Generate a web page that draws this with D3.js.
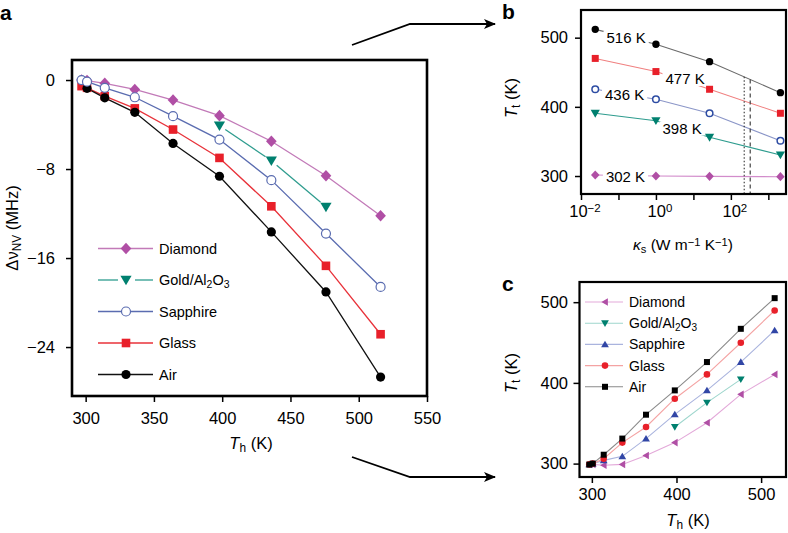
<!DOCTYPE html>
<html><head><meta charset="utf-8">
<script src="https://cdn.jsdelivr.net/npm/d3@7"></script>
<style>
body{margin:0;background:#fff;}
svg{display:block;font-family:"Liberation Sans",Arial,Helvetica,sans-serif;}
</style>
</head><body>
<svg id="chart" width="788" height="533"></svg>
<script>
// ---------- DATA ----------
const Th = [297, 301, 314, 336, 364, 398, 436, 476, 516];
// panel a: shift of NV frequency (MHz)
const diamondA  = [0, -0.05, -0.3, -0.85, -1.8, -3.2, -5.5, -8.6, -12.2];
const goldA     = [null, null, null, null, null, -4.1, -7.25, -11.4, null];
const sapphireA = [0, -0.15, -0.7, -1.55, -3.25, -5.35, -9.0, -13.8, -18.6];
const glassA    = [-0.55, -0.7, -1.45, -2.55, -4.45, -7.0, -11.35, -16.7, -22.85];
const airA      = [null, -0.75, -1.6, -2.9, -5.7, -8.65, -13.65, -19.05, -26.7];
const xTicksA = [300, 350, 400, 450, 500, 550];
const yTicksA = [0, -8, -16, -24];

// panel b: Tt vs substrate conductivity
const kappa = [0.024, 1.0, 27, 2100];
const b516 = [512, 490.5, 465.3, 420.5];
const b477 = [470, 451, 425.4, 390.7];
const b436 = [425.4, 411, 390.7, 351];
const b398 = [390.7, 380, 356, 330.5];
const b302 = [301.5, 300, 299.5, 299];
const bLabels = ["516 K", "477 K", "436 K", "398 K", "302 K"];
const vlinesB = [227, 328];
const xTicksB = [0.01, 0.1, 1, 10, 100, 1000];
const xLabelsB = [0.01, 1, 100];
const yTicksB = [300, 400, 500];

// panel c: Tt vs Th
const diamondC  = [299, 299, 298, 299, 310, 326, 350.7, 385.8, 410.5];
const goldC     = [null, null, null, null, null, 345.4, 375.5, 404.4, null];
const sapphireC = [299, 300, 304, 309, 331, 361, 390.7, 425.8, 465];
const glassC    = [299, 300, 306, 326, 345.4, 380.4, 410.5, 449.7, 489.7];
const airC      = [298.8, 300, 311, 331, 360.6, 390.7, 425.8, 467, 505];
const xTicksC = [300, 400, 500];
const yTicksC = [300, 400, 500];

const names = ["Diamond", "Gold/Al2O3", "Sapphire", "Glass", "Air"];

// ---------- HELPERS ----------
const svg = d3.select("#chart");
const FONT = "Liberation Sans, Arial, Helvetica, sans-serif";

function markerPath(type, s) {
  switch (type) {
    case "diamond": return `M0,${-s}L${s*0.92},0L0,${s}L${-s*0.92},0Z`;
    case "square": return `M${-s},${-s}H${s}V${s}H${-s}Z`;
    case "tdown": return `M${-s},${-s*0.75}H${s}L0,${s*0.95}Z`;
    case "tup": return `M${-s},${s*0.75}H${s}L0,${-s*0.95}Z`;
    case "tleft": return `M${s*0.75},${-s}V${s}L${-s*0.95},0Z`;
    default: return d3.symbol(d3.symbolCircle, Math.PI*s*s)();
  }
}
function drawMarker(g, type, x, y, s, fill, stroke, sw) {
  g.append("path").attr("d", markerPath(type, s))
    .attr("transform", `translate(${x},${y})`)
    .attr("fill", fill).attr("stroke", stroke || "none").attr("stroke-width", sw || 0);
}
function styleAxis(g, fs) {
  g.select(".domain").remove();
  g.selectAll(".tick line").attr("stroke", "#000").attr("stroke-width", 1.5);
  g.selectAll(".tick text").attr("font-size", fs).attr("fill", "#000").attr("font-family", FONT);
}
const fmtMinus = d => d < 0 ? "\u2212" + (-d) : String(d);

function addSubLabel(g, parts, x, y, fs, anchor, rotate) {
  const t = g.append("text").attr("font-size", fs).attr("text-anchor", anchor || "middle")
    .attr("fill", "#000");
  if (rotate) t.attr("transform", `translate(${x},${y}) rotate(-90)`);
  else t.attr("x", x).attr("y", y);
  parts.forEach(p => {
    const ts = t.append("tspan").text(p.t);
    if (p.i) ts.attr("font-style", "italic");
    if (p.sub) ts.attr("baseline-shift", "-28%").attr("font-size", fs * 0.72);
    if (p.sup) ts.attr("baseline-shift", "38%").attr("font-size", fs * 0.72);
  });
  return t;
}
function goldName(g, x, y, fs) {
  addSubLabel(g, [{t:"Gold/Al"},{t:"2",sub:1},{t:"O"},{t:"3",sub:1}], x, y, fs, "start");
}

// ---------- PANEL A ----------
const A = {l:72, r:427, t:60, b:396};
const xA = d3.scaleLinear().domain([290, 550]).range([A.l, A.r]);
const yA = d3.scaleLinear().domain([-28.4, 1.8]).range([A.b, A.t]);
const gA = svg.append("g");

const seriesA = [
  {name:"Diamond", v:diamondA, line:"#c27ab8", fill:"#b04fa5", stroke:"none", m:"diamond", s:5.8},
  {name:"Gold/Al2O3", v:goldA, line:"#2e9c8e", fill:"#00806f", stroke:"none", m:"tdown", s:5.6, gap:7},
  {name:"Glass", v:glassA, line:"#e8323a", fill:"#e8202a", stroke:"none", m:"square", s:4.3},
  {name:"Air", v:airA, line:"#111", fill:"#000", stroke:"none", m:"circle", s:4.6},
  {name:"Sapphire", v:sapphireA, line:"#5a6cb0", fill:"#fff", stroke:"#5a6cb0", m:"circle", s:4.5, sw:1.2}
];
const lineGen = (xs, ys) => d3.line().defined(d => d[1] != null).x(d => xs(d[0])).y(d => ys(d[1]));

seriesA.forEach(S => {
  const pts = Th.map((t, i) => [t, S.v[i]]).filter(p => p[1] != null);
  if (S.gap) {
    for (let i = 0; i < pts.length - 1; i++) {
      const x1 = xA(pts[i][0]), y1 = yA(pts[i][1]), x2 = xA(pts[i+1][0]), y2 = yA(pts[i+1][1]);
      const L = Math.hypot(x2-x1, y2-y1), ux = (x2-x1)/L, uy = (y2-y1)/L;
      gA.append("line").attr("x1", x1+ux*S.gap).attr("y1", y1+uy*S.gap)
        .attr("x2", x2-ux*S.gap).attr("y2", y2-uy*S.gap)
        .attr("stroke", S.line).attr("stroke-width", 1.3);
    }
  } else {
    gA.append("path").datum(pts).attr("d", lineGen(xA, yA)).attr("fill", "none")
      .attr("stroke", S.line).attr("stroke-width", 1.3);
  }
});
seriesA.forEach(S => {
  Th.forEach((t, i) => { if (S.v[i] != null) drawMarker(gA, S.m, xA(t), yA(S.v[i]), S.s, S.fill, S.stroke, S.sw); });
});
gA.append("rect").attr("x", A.l).attr("y", A.t).attr("width", A.r-A.l).attr("height", A.b-A.t)
  .attr("fill", "none").attr("stroke", "#000").attr("stroke-width", 2.6);
const axA = gA.append("g").attr("transform", `translate(0,${A.b})`)
  .call(d3.axisBottom(xA).tickValues(xTicksA).tickSize(6).tickPadding(10));
styleAxis(axA, 16.5);
const ayA = gA.append("g").attr("transform", `translate(${A.l},0)`)
  .call(d3.axisLeft(yA).tickValues(yTicksA).tickSize(6).tickPadding(11).tickFormat(fmtMinus));
styleAxis(ayA, 16.5);
addSubLabel(gA, [{t:"T",i:1},{t:"h",sub:1},{t:" (K)"}], 251, 449, 16.5);
addSubLabel(gA, [{t:"\u0394\u03bd"},{t:"NV",sub:1},{t:" (MHz)"}], 18, 228, 16.5, "middle", true);

// legend a
const legA = ["Diamond","Gold/Al2O3","Sapphire","Glass","Air"];
legA.forEach((nm, i) => {
  const S = seriesA.find(s => s.name === nm);
  const y = 248.5 + i * 31.5;
  if (S.gap) {
    gA.append("line").attr("x1", 98).attr("x2", 118).attr("y1", y).attr("y2", y).attr("stroke", S.line).attr("stroke-width", 1.3);
    gA.append("line").attr("x1", 135).attr("x2", 153).attr("y1", y).attr("y2", y).attr("stroke", S.line).attr("stroke-width", 1.3);
  } else {
    gA.append("line").attr("x1", 98).attr("x2", 153).attr("y1", y).attr("y2", y).attr("stroke", S.line).attr("stroke-width", 1.3);
  }
  drawMarker(gA, S.m, 126, y, S.s, S.fill, S.stroke, S.sw);
  if (nm === "Gold/Al2O3") goldName(gA, 159, y + 5.2, 14.5);
  else gA.append("text").attr("x", 159).attr("y", y + 5.2).attr("font-size", 14.5).text(nm);
});

// ---------- PANEL B ----------
const B = {l:581, r:786, t:10, b:194};
const xB = d3.scaleLog().domain([0.01, 2960]).range([B.l, B.r]);
const yB = d3.scaleLinear().domain([274, 540]).range([B.b, B.t]);
const gB = svg.append("g");
const seriesB = [
  {v:b516, line:"#6a6a6a", fill:"#000", stroke:"none", m:"circle", s:3.7, lab:bLabels[0], lx:0.16, ly:499.5},
  {v:b477, line:"#f08080", fill:"#e8202a", stroke:"none", m:"square", s:3.5, lab:bLabels[1], lx:6.0, ly:440.3},
  {v:b436, line:"#8b96c8", fill:"#fff", stroke:"#2d4ca3", m:"circle", s:3.3, sw:1.5, lab:bLabels[2], lx:0.146, ly:418},
  {v:b398, line:"#2e9c8e", fill:"#00806f", stroke:"none", m:"tdown", s:4.6, lab:bLabels[3], lx:5.0, ly:368.6},
  {v:b302, line:"#d28ccb", fill:"#b04fa5", stroke:"none", m:"diamond", s:4.6, lab:bLabels[4], lx:0.154, ly:299.3}
];
seriesB.forEach(S => {
  gB.append("path").datum(kappa.map((k, i) => [k, S.v[i]])).attr("d", lineGen(xB, yB))
    .attr("fill", "none").attr("stroke", S.line).attr("stroke-width", 1.1);
});
// vertical reference lines from the 516 K curve to the axis
vlinesB.forEach((kv, j) => {
  const lk = kappa.map(Math.log10);
  const i = 2, f = (Math.log10(kv) - lk[i]) / (lk[i+1] - lk[i]);
  const yt = b516[i] + f * (b516[i+1] - b516[i]);
  gB.append("line").attr("x1", xB(kv)).attr("x2", xB(kv)).attr("y1", yB(yt)).attr("y2", B.b)
    .attr("stroke", "#333").attr("stroke-width", 1.1).attr("stroke-dasharray", j === 0 ? "1.5,2" : "4,3");
});
seriesB.forEach(S => {
  const tx = xB(S.lx), ty = yB(S.ly);
  const t = gB.append("text").attr("x", tx).attr("y", ty + 5.3).attr("text-anchor", "middle")
    .attr("font-size", 15).text(S.lab);
  const bb = t.node().getBBox();
  gB.insert("rect", "text").attr("x", bb.x - 3).attr("y", ty - 7).attr("width", bb.width + 6).attr("height", 14).attr("fill", "#fff");
});
seriesB.forEach(S => {
  kappa.forEach((k, i) => drawMarker(gB, S.m, xB(k), yB(S.v[i]), S.s, S.fill, S.stroke, S.sw));
});
gB.append("rect").attr("x", B.l).attr("y", B.t).attr("width", B.r-B.l).attr("height", B.b-B.t)
  .attr("fill", "none").attr("stroke", "#000").attr("stroke-width", 2.2);
const axB = gB.append("g").attr("transform", `translate(0,${B.b})`)
  .call(d3.axisBottom(xB).tickValues(xTicksB).tickSize(6).tickPadding(4).tickFormat(() => ""));
styleAxis(axB, 16.5);
xLabelsB.forEach(v => {
  const e = Math.round(Math.log10(v));
  const t = gB.append("text").attr("x", xB(v) + 4).attr("y", 217).attr("text-anchor", "middle").attr("font-size", 16.5);
  t.append("tspan").text("10");
  t.append("tspan").text(e < 0 ? "\u2212" + (-e) : String(e)).attr("baseline-shift", "40%").attr("font-size", 11.5);
});
const ayB = gB.append("g").attr("transform", `translate(${B.l},0)`)
  .call(d3.axisLeft(yB).tickValues(yTicksB).tickSize(6).tickPadding(7));
styleAxis(ayB, 16.5);
addSubLabel(gB, [{t:"\u03ba",i:1},{t:"s",sub:1},{t:" (W m"},{t:"\u22121",sup:1},{t:" K"},{t:"\u22121",sup:1},{t:")"}], 683, 250, 15.5);
addSubLabel(gB, [{t:"T",i:1},{t:"t",sub:1},{t:" (K)"}], 517, 98, 16.5, "middle", true);

// ---------- PANEL C ----------
const C = {l:579.5, r:786, t:282, b:477};
const xC = d3.scaleLinear().domain([285.4, 529.4]).range([C.l, C.r]);
const yC = d3.scaleLinear().domain([283.4, 525]).range([C.b, C.t]);
const gC = svg.append("g");
const seriesC = [
  {name:"Diamond", v:diamondC, line:"#e3a9d9", fill:"#b04fa5", m:"tleft", s:3.8},
  {name:"Gold/Al2O3", v:goldC, line:"#9ed6cd", fill:"#00806f", m:"tdown", s:3.9},
  {name:"Sapphire", v:sapphireC, line:"#aab4de", fill:"#3146a6", m:"tup", s:3.9},
  {name:"Glass", v:glassC, line:"#f4a3a3", fill:"#e8202a", m:"circle", s:3.3},
  {name:"Air", v:airC, line:"#8a8a8a", fill:"#000", m:"square", s:3.0}
];
seriesC.forEach(S => {
  gC.append("path").datum(Th.map((t, i) => [t, S.v[i]])).attr("d", lineGen(xC, yC))
    .attr("fill", "none").attr("stroke", S.line).attr("stroke-width", 1.1);
});
seriesC.forEach(S => {
  Th.forEach((t, i) => { if (S.v[i] != null) drawMarker(gC, S.m, xC(t), yC(S.v[i]), S.s, S.fill); });
});
gC.append("rect").attr("x", C.l).attr("y", C.t).attr("width", C.r-C.l).attr("height", C.b-C.t)
  .attr("fill", "none").attr("stroke", "#000").attr("stroke-width", 2.2);
const axC = gC.append("g").attr("transform", `translate(0,${C.b})`)
  .call(d3.axisBottom(xC).tickValues(xTicksC).tickSize(6).tickPadding(5));
styleAxis(axC, 16.5);
const ayC = gC.append("g").attr("transform", `translate(${C.l},0)`)
  .call(d3.axisLeft(yC).tickValues(yTicksC).tickSize(6).tickPadding(5.5));
styleAxis(ayC, 16.5);
addSubLabel(gC, [{t:"T",i:1},{t:"h",sub:1},{t:" (K)"}], 688, 526, 16.5);
addSubLabel(gC, [{t:"T",i:1},{t:"t",sub:1},{t:" (K)"}], 517, 373, 16.5, "middle", true);
seriesC.forEach((S, i) => {
  const y = 302 + i * 21.2;
  gC.append("line").attr("x1", 585).attr("x2", 623).attr("y1", y).attr("y2", y).attr("stroke", S.line).attr("stroke-width", 1.1);
  drawMarker(gC, S.m, 605, y, S.s, S.fill);
  if (S.name === "Gold/Al2O3") goldName(gC, 629, y + 5, 14);
  else gC.append("text").attr("x", 629).attr("y", y + 5).attr("font-size", 14).text(S.name);
});

// ---------- PANEL LETTERS & ARROWS ----------
svg.append("text").attr("x", 0).attr("y", 20).attr("font-size", 21).attr("font-weight", "bold").text("a");
svg.append("text").attr("x", 502).attr("y", 19).attr("font-size", 21).attr("font-weight", "bold").text("b");
svg.append("text").attr("x", 502).attr("y", 291).attr("font-size", 21).attr("font-weight", "bold").text("c");

const defs = svg.append("defs");
defs.append("marker").attr("id", "ah").attr("viewBox", "0 0 12 10").attr("refX", 11).attr("refY", 5)
  .attr("markerWidth", 12).attr("markerHeight", 10).attr("markerUnits", "userSpaceOnUse").attr("orient", "auto")
  .append("path").attr("d", "M0,0L12,5L0,10L3,5Z").attr("fill", "#000");
svg.append("polyline").attr("points", "352,45 410,24 495,24").attr("fill", "none")
  .attr("stroke", "#000").attr("stroke-width", 1.8).attr("marker-end", "url(#ah)");
svg.append("polyline").attr("points", "352,457 410,477 495,477").attr("fill", "none")
  .attr("stroke", "#000").attr("stroke-width", 1.8).attr("marker-end", "url(#ah)");
</script>
</body></html>
